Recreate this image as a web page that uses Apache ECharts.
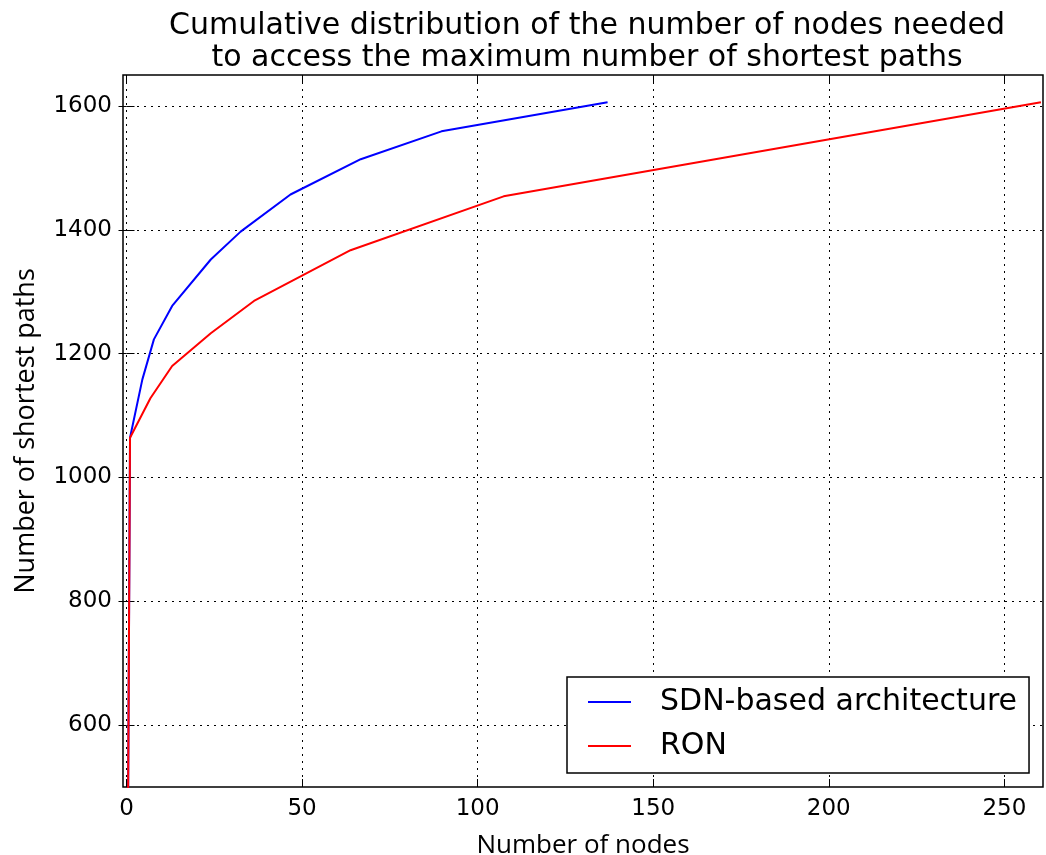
<!DOCTYPE html>
<html>
<head>
<meta charset="utf-8">
<script src="https://cdn.jsdelivr.net/npm/echarts@6/dist/echarts.min.js"></script>
<style>
  html, body { margin: 0; padding: 0; background: #fff; }
  #chart { width: 1046px; height: 855px; }
</style>
</head>
<body>
<div id="chart"></div>
<script>
// Data
const sdnX = [0, 1, 4.5, 7.8, 13, 24, 32.5, 46.7, 66.7, 89.7, 137];
const sdnY = [0, 1064, 1158, 1223, 1277, 1352, 1397, 1457, 1514, 1559, 1606];
const ronX = [0, 1, 6.8, 13, 24, 36.3, 63.8, 107.4, 260.4];
const ronY = [0, 1064, 1128, 1180, 1233, 1285, 1367, 1454, 1606];
const xTicks = [0, 50, 100, 150, 200, 250];
const yTicks = [600, 800, 1000, 1200, 1400, 1600];

const font = 'DejaVu Sans';
const labelFont = '"Open Sans", "DejaVu Sans"';

const gridStyle = { show: true, lineStyle: { color: '#000', type: [2, 5], width: 1 } };
const tickStyle = { show: true, inside: true, length: 8, lineStyle: { color: '#000', width: 1 } };

function pairs(xs, ys) {
  return xs.map((x, i) => [x, ys[i]]);
}

const chart = echarts.init(document.getElementById('chart'), null, { renderer: 'canvas' });

chart.setOption({
  animation: false,
  backgroundColor: '#fff',
  title: {
    text: 'Cumulative distribution of the number of nodes needed\nto access the maximum number of shortest paths',
    left: 582,
    top: 5,
    textAlign: 'center',
    textStyle: { fontFamily: font, fontSize: 30, fontWeight: 'normal', color: '#000', lineHeight: 32 }
  },
  grid: {
    left: 123, right: 3, top: 75, bottom: 68,
    outerBoundsMode: 'none',
    show: true, borderColor: '#000', borderWidth: 1.5
  },
  legend: {
    left: 567,
    top: 677,
    orient: 'vertical',
    icon: 'rect',
    itemWidth: 43,
    itemHeight: 2,
    itemGap: 14,
    padding: [10, 12, 12, 21],
    borderColor: '#000',
    borderWidth: 1.5,
    backgroundColor: '#fff',
    textStyle: { fontFamily: font, fontSize: 30, color: '#000', padding: [0, 0, 0, 24] },
    data: ['SDN-based architecture', 'RON']
  },
  xAxis: [{
    type: 'value',
    min: -1,
    max: 261,
    interval: 50,
    name: 'Number of nodes',
    nameLocation: 'middle',
    nameGap: 46,
    nameTextStyle: { fontFamily: labelFont, fontSize: 26, color: '#000' },
    axisLine: { show: false },
    axisTick: Object.assign({ customValues: xTicks }, tickStyle),
    axisLabel: { fontFamily: font, fontSize: 23, color: '#000', margin: 11, customValues: xTicks },
    splitLine: gridStyle
  }, {
    type: 'value',
    position: 'top',
    min: -1,
    max: 261,
    interval: 50,
    axisLine: { show: false },
    axisTick: Object.assign({ customValues: xTicks }, tickStyle),
    axisLabel: { show: false },
    splitLine: { show: false }
  }],
  yAxis: [{
    type: 'value',
    min: 500,
    max: 1650,
    interval: 50,
    name: 'Number of shortest paths',
    nameLocation: 'middle',
    nameGap: 83,
    nameTextStyle: { fontFamily: labelFont, fontSize: 27, color: '#000' },
    axisLine: { show: false },
    axisTick: Object.assign({ customValues: yTicks }, tickStyle),
    axisLabel: { fontFamily: font, fontSize: 23, color: '#000', margin: 11, customValues: yTicks, formatter: v => String(v) },
    splitLine: gridStyle
  }, {
    type: 'value',
    position: 'right',
    min: 500,
    max: 1650,
    interval: 50,
    axisLine: { show: false },
    axisTick: Object.assign({ customValues: yTicks }, tickStyle),
    axisLabel: { show: false },
    splitLine: { show: false }
  }],
  series: [{
    name: 'SDN-based architecture',
    type: 'line',
    symbol: 'none',
    clip: true,
    data: pairs(sdnX, sdnY),
    lineStyle: { color: '#0000ff', width: 2 },
    itemStyle: { color: '#0000ff' }
  }, {
    name: 'RON',
    type: 'line',
    symbol: 'none',
    clip: true,
    data: pairs(ronX, ronY),
    lineStyle: { color: '#ff0000', width: 2 },
    itemStyle: { color: '#ff0000' }
  }]
});

window.addEventListener('resize', () => chart.resize());
</script>
</body>
</html>
